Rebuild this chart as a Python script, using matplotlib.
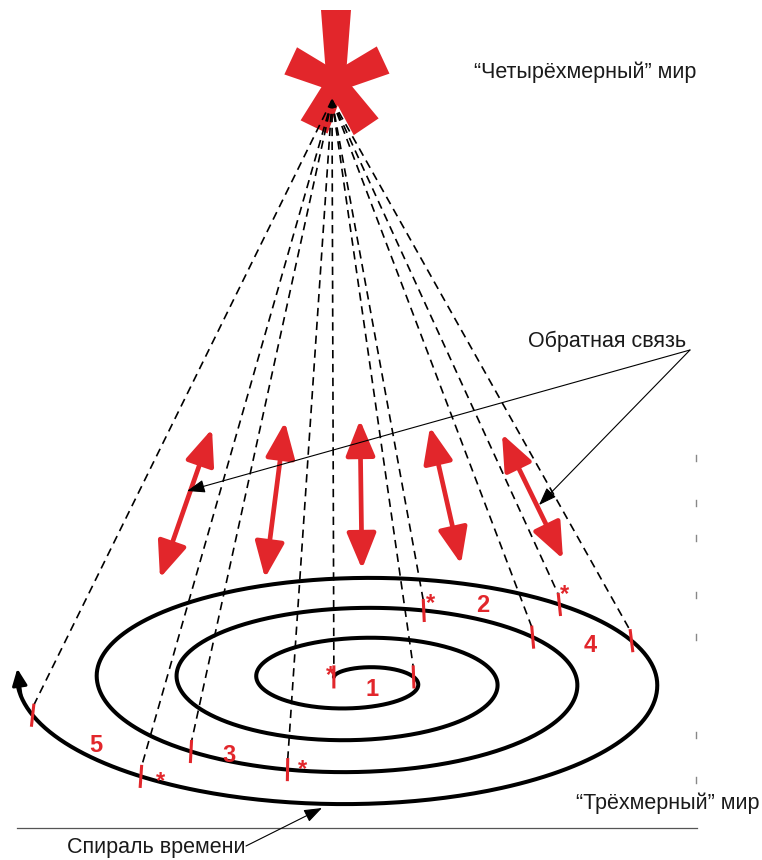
import numpy as np
import matplotlib
matplotlib.use("Agg")
import matplotlib.pyplot as plt
from matplotlib.patches import FancyArrowPatch, Polygon

plt.rcParams["font.family"] = ["Liberation Sans", "DejaVu Sans"]
plt.rcParams["lines.scale_dashes"] = False

RED = "#e2262b"
INK = "#1a1a1a"

# everything lives in pixel space of the 762x860 picture, y grows downward
W, H = 762, 860

# time spiral: x radius and y radii grow linearly per turn
spiral_center = (357.0, 680.5)
spiral_rx = (40.0, 80.0)
spiral_ry_top = (12.5, 30.0)
spiral_ry_bottom = (11.5, 32.0)
spiral_span = (-0.17, 3.765)

# red marks on the spiral, given as position along the spiral (turns)
mark_turns = [-0.17, 0.22, 2.053, 2.155, 3.123, 3.19, 3.707, 3.614, 2.616, 2.546]
# where the small "*" sit next to the segment starts
star_pos = [(331, 676), (430, 604), (565, 595), (160, 782), (302, 770)]
# segment numbers
seg_labels = ["1", "2", "3", "4", "5"]
seg_pos = [(372, 690), (483, 606), (229, 755), (590, 645), (96, 745)]

# apex of the cone and the big red asterisk
apex = (332, 100)
star_center = (336, 82)
star_angles = [90, 155, 25, 244, 304]
star_lengths = [72, 50, 52, 50, 54]

# feedback double arrows
feedback_bottom = [(160, 578), (265, 578), (362, 569), (461, 564), (563, 559)]
feedback_top = [(212, 429), (285, 422), (360, 420), (430, 427), (502, 434)]

# faint marks at the right edge
edge_marks = [458, 503, 538, 595, 637, 735, 780]


def spiral_xy(t):
    t = np.asarray(t, dtype=float)
    theta = np.pi / 2 - 2 * np.pi * t
    s = np.sin(theta)
    rx = spiral_rx[0] + spiral_rx[1] * t
    ry = np.where(s > 0,
                  spiral_ry_top[0] + spiral_ry_top[1] * t,
                  spiral_ry_bottom[0] + spiral_ry_bottom[1] * t)
    return spiral_center[0] + rx * np.cos(theta), spiral_center[1] - ry * s


fig = plt.figure(figsize=(W / 100, H / 100), dpi=100)
ax = fig.add_axes([0, 0, 1, 1])
ax.set_xlim(0, W)
ax.set_ylim(H, 0)
ax.axis("off")

# big red asterisk
cx0, cy0 = star_center
for ang, length in zip(star_angles, star_lengths):
    a = np.deg2rad(ang)
    d = np.array([np.cos(a), -np.sin(a)])
    p = np.array([-d[1], d[0]])
    c = np.array([cx0, cy0])
    tip = c + d * length
    pts = [c + p * 9 - d * 6, tip + p * 15, tip - p * 15, c - p * 9 - d * 6]
    ax.add_patch(Polygon(pts, closed=True, facecolor=RED, edgecolor="none", zorder=1))

# spiral
ts = np.linspace(spiral_span[0], spiral_span[1] - 0.02, 1500)
sx, sy = spiral_xy(ts)
ax.plot(sx, sy, color="black", lw=2.9, solid_capstyle="round", zorder=3)
ax.add_patch(FancyArrowPatch(tuple(np.array(spiral_xy(spiral_span[1] - 0.035)).ravel()),
                             tuple(np.array(spiral_xy(spiral_span[1])).ravel()),
                             arrowstyle="-|>,head_length=10,head_width=4.5",
                             mutation_scale=1, lw=2.2, color="black",
                             shrinkA=0, shrinkB=0, zorder=3))

# dashed rays from the apex and red ticks on the spiral
mx, my = spiral_xy(mark_turns)
for x, y in zip(mx, my):
    d = np.array([x - apex[0], y - apex[1]])
    d = d / np.hypot(*d)
    lean = 0.25 * d[0]
    ax.plot([apex[0], x - 10 * lean], [apex[1], y - 10], color="black", lw=1.2,
            dashes=(6, 4), zorder=2)
    ax.plot([x - 10 * lean, x + 10 * lean], [y - 10, y + 10], color=RED,
            lw=2.2, zorder=5)

for (x, y) in star_pos:
    ax.text(x, y, "*", color=RED, fontsize=17, fontweight="bold",
            ha="center", va="center", zorder=5)
for lab, (x, y) in zip(seg_labels, seg_pos):
    ax.text(x, y, lab, color=RED, fontsize=17, fontweight="bold",
            ha="center", va="center", zorder=5)

# red feedback arrows
for p0, p1 in zip(feedback_bottom, feedback_top):
    ax.add_patch(FancyArrowPatch(p0, p1, arrowstyle="<|-|>,head_length=22,head_width=9",
                                 mutation_scale=1, lw=3.4, color=RED,
                                 shrinkA=0, shrinkB=0, zorder=4))

# labels with pointer lines
ax.text(585, 72, "\u201cЧетырёхмерный\u201d мир", fontsize=15.5, color=INK,
        ha="center", va="center")
ax.text(607, 341, "Обратная связь", fontsize=15.5, color=INK,
        ha="center", va="center")
ax.text(576, 803, "\u201cТрёхмерный\u201d мир", fontsize=15.5, color=INK,
        ha="left", va="center")
ax.text(67, 848, "Спираль времени", fontsize=15.5, color=INK,
        ha="left", va="center")

for tip in [(187, 491), (539, 505)]:
    ax.add_patch(FancyArrowPatch((690, 350), tip,
                                 arrowstyle="-|>,head_length=11,head_width=4",
                                 mutation_scale=1, lw=0.8, color="black",
                                 shrinkA=0, shrinkB=0, zorder=6))
ax.add_patch(FancyArrowPatch((246, 846), (322, 808),
                             arrowstyle="-|>,head_length=11,head_width=4",
                             mutation_scale=1, lw=0.8, color="black",
                             shrinkA=0, shrinkB=0, zorder=6))

# ground line and faint edge marks
ax.plot([17, 697], [828, 828], color="#555555", lw=0.9)
for y in edge_marks:
    ax.plot([696, 696], [y - 3, y + 3], color="#888888", lw=1.0)

fig.savefig("out.png", dpi=100)
